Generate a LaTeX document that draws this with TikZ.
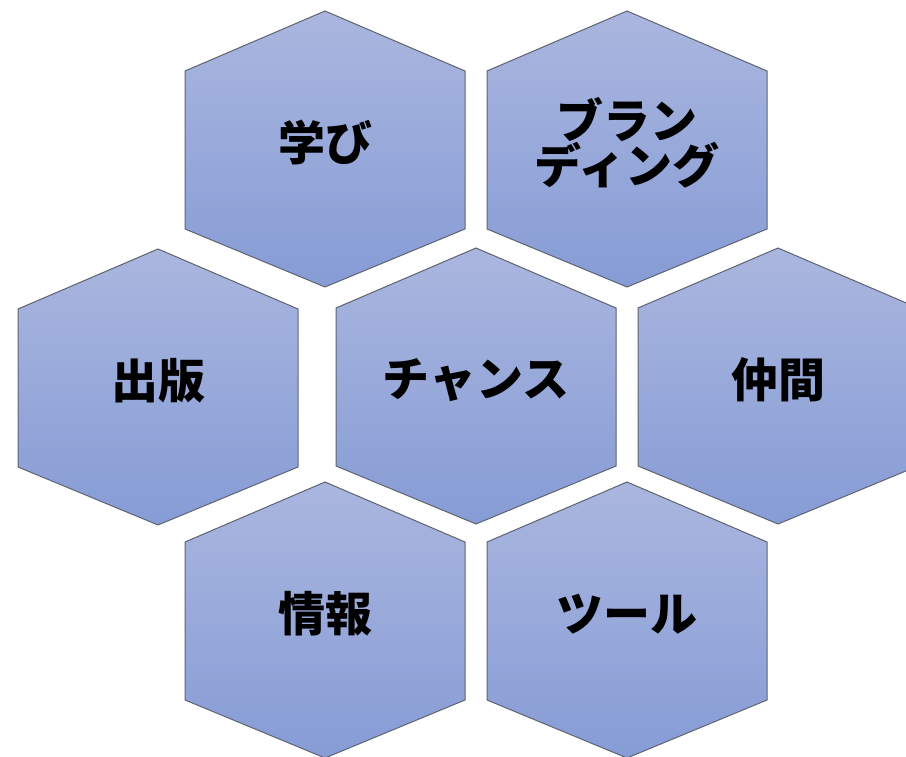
\documentclass[tikz,border=0pt]{standalone}
\usepackage{fontspec}
\newfontfamily\jp{Noto Sans CJK JP}
\definecolor{hextop}{RGB}{170,182,222}
\definecolor{hexbot}{RGB}{134,156,214}
\definecolor{hexedge}{RGB}{95,100,112}
\begin{document}
\begin{tikzpicture}[x=1pt,y=-1pt,
  hexfill/.style={draw=hexedge,line width=1pt,top color=hextop,bottom color=hexbot},
  lbl/.style={font=\jp\bfseries\fontsize{47}{45}\selectfont,text=black,align=center,inner sep=0pt}]
\useasboundingbox (0,0) rectangle (906,757);
\clip (0,0) rectangle (906,757);
\foreach \cx/\cy/\nm/\txt in {
  325/149/manabi/{学び},
  627/149/brand/{ブラン\\ディング},
  158/387/shuppan/{出版},
  476/386/chance/{チャンス},
  778/386/nakama/{仲間},
  325/620/joho/{情報},
  627/620/tool/{ツール}}{
  \path[hexfill] (\cx,\cy-138) -- (\cx+140,\cy-78) -- (\cx+140,\cy+80) -- (\cx,\cy+138)
    -- (\cx-140,\cy+80) -- (\cx-140,\cy-78) -- cycle;
  \node[lbl] (\nm) at (\cx,\cy-6) {\txt};
}
\end{tikzpicture}
\end{document}
